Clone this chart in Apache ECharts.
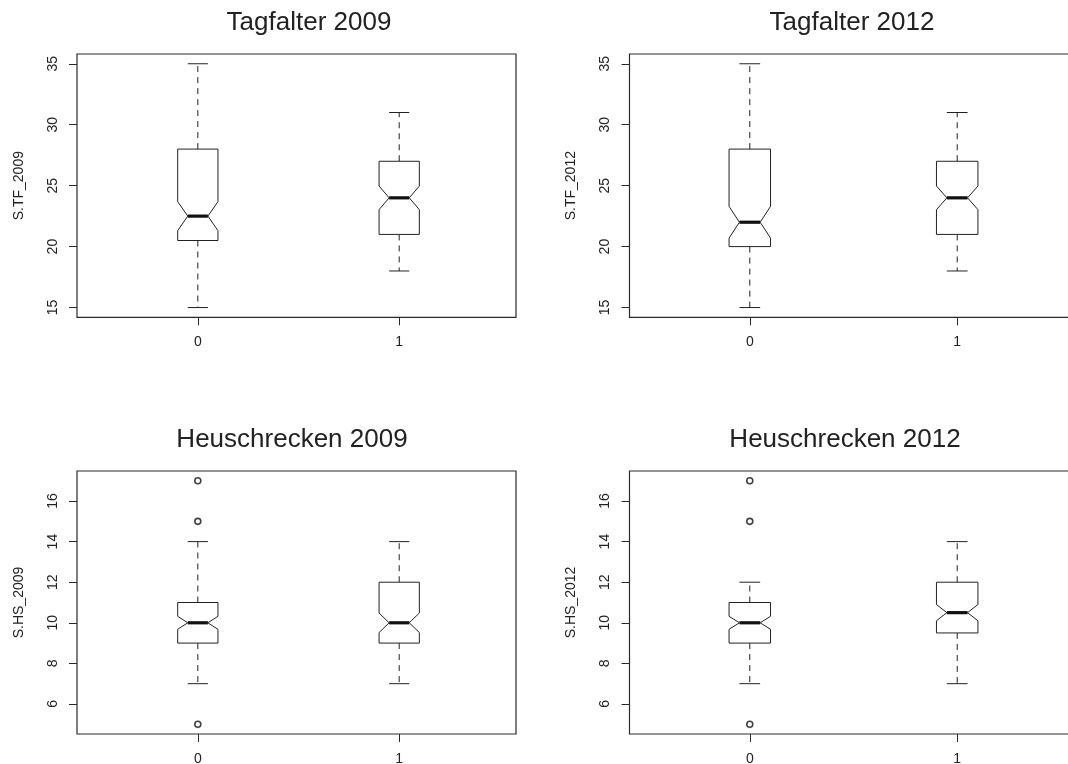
<!DOCTYPE html>
<html>
<head>
<meta charset="utf-8">
<script src="https://cdn.jsdelivr.net/npm/echarts@6/dist/echarts.min.js"></script>
<style>
html,body{margin:0;padding:0;background:#fff;}
#chart{width:1068px;height:764px;}
</style>
</head>
<body>
<div id="chart"></div>
<script>
// ---- data ----
const titles = ['Tagfalter 2009', 'Tagfalter 2012', 'Heuschrecken 2009', 'Heuschrecken 2012'];
const yNames = ['S.TF_2009', 'S.TF_2012', 'S.HS_2009', 'S.HS_2012'];
const groups = ['0', '1'];
const tfTicks = [15, 20, 25, 30, 35];
const hsTicks = [6, 8, 10, 12, 14, 16];

// [lower whisker, Q1, median, Q3, upper whisker] per group
const tf2009Stats = [[15, 20.5, 22.5, 28, 35], [18, 21, 24, 27, 31]];
const tf2012Stats = [[15, 20, 22, 28, 35], [18, 21, 24, 27, 31]];
const hs2009Stats = [[7, 9, 10, 11, 14], [7, 9, 10, 12, 14]];
const hs2012Stats = [[7, 9, 10, 11, 12], [7, 9.5, 10.5, 12, 14]];

// notch [lower, upper] per group
const tf2009Notch = [[21.31, 23.69], [23.03, 24.97]];
const tf2012Notch = [[20.7, 23.3], [23.03, 24.97]];
const hs2009Notch = [[9.68, 10.32], [9.52, 10.48]];
const hs2012Notch = [[9.68, 10.32], [10.1, 10.9]];

// outliers per group
const tf2009Outliers = [[], []];
const tf2012Outliers = [[], []];
const hs2009Outliers = [[17, 15, 5], []];
const hs2012Outliers = [[17, 15, 5], []];

// ---- chart ----
const panels = [
  {stats: tf2009Stats, notch: tf2009Notch, out: tf2009Outliers, ticks: tfTicks, yMin: 14.2, yMax: 35.8},
  {stats: tf2012Stats, notch: tf2012Notch, out: tf2012Outliers, ticks: tfTicks, yMin: 14.2, yMax: 35.8},
  {stats: hs2009Stats, notch: hs2009Notch, out: hs2009Outliers, ticks: hsTicks, yMin: 4.52, yMax: 17.48},
  {stats: hs2012Stats, notch: hs2012Notch, out: hs2012Outliers, ticks: hsTicks, yMin: 4.52, yMax: 17.48}
];
const gridPos = [
  {left: 77, top: 54, width: 439, height: 263.3},
  {left: 629.5, top: 54, width: 448, height: 263.3},
  {left: 77, top: 471, width: 439, height: 263},
  {left: 629.5, top: 471, width: 448, height: 263}
];
const xRange = [[0.40, 2.58], [0.42, 2.58], [0.40, 2.58], [0.42, 2.58]];
const titlePos = [
  {x: 309, y: 10}, {x: 852, y: 10}, {x: 292, y: 427}, {x: 845, y: 427}
];

const FONT = 'Liberation Sans, Arial, sans-serif';
const INK = '#222';
const FRAME = '#2a2a2a';

function renderBox(params, api) {
  const x = api.value(0);
  const lo = api.value(1), q1 = api.value(2), med = api.value(3), q3 = api.value(4), hi = api.value(5);
  const nlo = api.value(6), nhi = api.value(7);
  const bw = 0.1, nw = 0.05, sw = 0.05;
  const P = (dx, y) => api.coord([x + dx, y]);
  const pts = [P(-bw, q1), P(-bw, nlo), P(-nw, med), P(-bw, nhi), P(-bw, q3),
               P(bw, q3), P(bw, nhi), P(nw, med), P(bw, nlo), P(bw, q1)];
  const line = (a, b, extra) => ({
    type: 'line',
    shape: {x1: a[0], y1: a[1], x2: b[0], y2: b[1]},
    style: Object.assign({stroke: INK, lineWidth: 1}, extra || {})
  });
  return {
    type: 'group',
    children: [
      line(P(0, q3), P(0, hi), {lineDash: [6, 5]}),
      line(P(0, q1), P(0, lo), {lineDash: [6, 5]}),
      line(P(-sw, hi), P(sw, hi)),
      line(P(-sw, lo), P(sw, lo)),
      {type: 'polygon', shape: {points: pts}, style: {fill: '#fff', stroke: INK, lineWidth: 1}},
      line(P(-nw, med), P(nw, med), {lineWidth: 3.2, stroke: '#111'})
    ]
  };
}

const grid = [], xAxis = [], yAxis = [], series = [], title = [];
panels.forEach((p, i) => {
  grid.push(Object.assign({show: true, borderColor: FRAME, borderWidth: 1.2, backgroundColor: 'transparent',
    containLabel: false, outerBoundsMode: 'none'}, gridPos[i]));
  title.push({
    text: titles[i], left: titlePos[i].x, top: titlePos[i].y, textAlign: 'center', padding: 0,
    textStyle: {fontFamily: FONT, fontSize: 26, fontWeight: 'normal', color: INK}
  });
  xAxis.push({
    type: 'value', gridIndex: i, min: xRange[i][0], max: xRange[i][1],
    splitLine: {show: false}, axisLine: {show: false},
    axisTick: {show: true, length: 8, inside: false, customValues: [1, 2], lineStyle: {color: FRAME}},
    axisLabel: {show: true, customValues: [1, 2], margin: 18, fontFamily: FONT, fontSize: 14, color: INK,
      formatter: v => groups[Math.round(v) - 1]}
  });
  yAxis.push({
    type: 'value', gridIndex: i, min: p.yMin, max: p.yMax,
    name: yNames[i], nameLocation: 'middle', nameRotate: 90, nameGap: 51,
    nameTextStyle: {fontFamily: FONT, fontSize: 14, color: INK},
    splitLine: {show: false}, axisLine: {show: false},
    axisTick: {show: true, length: 8, customValues: p.ticks, lineStyle: {color: FRAME}},
    axisLabel: {show: true, rotate: 90, margin: 17, customValues: p.ticks, fontFamily: FONT, fontSize: 14, color: INK,
      formatter: v => String(v)}
  });
  const boxData = p.stats.map((s, g) => [g + 1, s[0], s[1], s[2], s[3], s[4], p.notch[g][0], p.notch[g][1]]);
  series.push({
    type: 'custom', xAxisIndex: i, yAxisIndex: i, renderItem: renderBox, data: boxData,
    encode: {x: 0, y: [1, 2, 3, 4, 5]}, silent: true, clip: false
  });
  const outData = [];
  p.out.forEach((arr, g) => arr.forEach(v => outData.push([g + 1, v])));
  series.push({
    type: 'scatter', xAxisIndex: i, yAxisIndex: i, data: outData, symbol: 'circle', symbolSize: 6,
    itemStyle: {color: '#fff', borderColor: '#111', borderWidth: 1.6}, silent: true
  });
});

const chart = echarts.init(document.getElementById('chart'), null, {renderer: 'canvas'});
chart.setOption({animation: false, backgroundColor: '#fff', title, grid, xAxis, yAxis, series});
</script>
</body>
</html>
